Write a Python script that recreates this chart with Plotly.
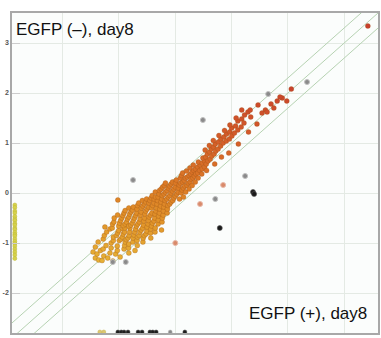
import plotly.graph_objects as go

# ---- axes / reference lines ----
y_ticks = [-2, -1, 0, 1, 2, 3]
y_ticktext = ["-2", "-1", "0", "1", "2", "3"]
x_grid = [-2, -1, 0, 1, 2, 3]
x_range = [-2.9, 3.6]
y_range = [-2.8, 3.6]
fold_offsets = [0.301, 0.0, -0.301]   # log10(2) fold-change bands

# ---- main cloud (x = EGFP(+), y = EGFP(-)), log10 values ----
low_pts = [(-1.42, -1.30), (-1.46, -1.18), (-1.36, -1.34), (-1.39, -1.22), (-1.42, -1.08),
           (-1.30, -1.35), (-1.33, -1.15), (-1.27, -1.26), (-1.37, -0.98), (-1.28, -1.12),
           (-1.20, -1.30), (-1.25, -0.68), (-1.23, -1.05), (-1.16, -1.20), (-1.28, -0.92),
           (-1.11, -1.36), (-1.14, -1.10), (-1.26, -0.85), (-1.06, -1.22), (-1.14, -1.00),
           (-1.22, -0.78), (-1.03, -1.15), (-1.10, -0.95), (-0.98, -1.28), (-1.10, -0.88),
           (-1.03, -1.06), (-1.16, -0.72), (-1.02, -0.14)]

mid_pts = [(-1.12, -0.70), (-0.995, -0.95), (-0.91, -1.12), (-1.045, -0.85),
           (-1.115, -0.62), (-1.025, -0.80), (-0.90, -1.05), (-0.965, -0.92), (-0.825, -1.20),
           (-1.005, -0.75), (-1.09, -0.58), (-0.89, -0.98), (-0.83, -1.10), (-0.94, -0.88),
           (-1.005, -0.66), (-0.925, -0.82), (-1.085, -0.50), (-0.825, -1.02), (-0.87, -0.93),
           (-0.93, -0.72), (-0.99, -0.60), (-0.84, -0.90), (-0.715, -1.15), (-0.90, -0.78),
           (-0.97, -0.55), (-0.895, -0.70), (-0.82, -0.85), (-0.755, -0.98), (-1.025, -0.44), (-0.92, -0.65),
           (-0.89, -0.62), (-0.81, -0.78), (-0.75, -0.90), (-0.95, -0.50), (-0.675, -1.05),
           (-0.865, -0.58), (-0.805, -0.70), (-0.93, -0.45), (-0.735, -0.84), (-0.68, -0.95), (-0.825, -0.66),
           (-0.85, -0.52), (-0.79, -0.64), (-0.72, -0.78), (-0.91, -0.40), (-0.67, -0.88),
           (-0.765, -0.60), (-0.825, -0.48), (-0.705, -0.72), (-0.64, -0.85), (-0.89, -0.35), (-0.575, -0.98),
           (-0.745, -0.55), (-0.69, -0.66), (-0.81, -0.42), (-0.63, -0.78), (-0.57, -0.90),
           (-0.725, -0.50), (-0.665, -0.62), (-0.785, -0.38), (-0.605, -0.74), (-0.55, -0.85), (-0.825, -0.30),
           (-0.705, -0.45), (-0.64, -0.58), (-0.58, -0.70), (-0.76, -0.34), (-0.52, -0.82),
           (-0.625, -0.52), (-0.685, -0.40), (-0.565, -0.64), (-0.745, -0.28), (-0.505, -0.76), (-0.435, -0.90),
           (-0.62, -0.44), (-0.56, -0.56), (-0.68, -0.32), (-0.50, -0.68), (-0.44, -0.80),
           (-0.605, -0.38), (-0.545, -0.50), (-0.485, -0.62), (-0.67, -0.25), (-0.435, -0.72),
           (-0.54, -0.42), (-0.60, -0.30), (-0.475, -0.55), (-0.42, -0.66), (-0.65, -0.20), (-0.36, -0.78),
           (-0.525, -0.36), (-0.465, -0.48), (-0.575, -0.26), (-0.405, -0.60), (-0.355, -0.70),
           (-0.50, -0.32), (-0.44, -0.44), (-0.55, -0.22), (-0.38, -0.56), (-0.585, -0.15),
           (-0.475, -0.28), (-0.415, -0.40), (-0.365, -0.50), (-0.525, -0.18), (-0.305, -0.62), (-0.245, -0.74),
           (-0.42, -0.30), (-0.47, -0.20), (-0.36, -0.42), (-0.51, -0.12), (-0.30, -0.54),
           (-0.40, -0.25), (-0.345, -0.36), (-0.45, -0.15), (-0.295, -0.46), (-0.235, -0.58),
           (-0.38, -0.20), (-0.33, -0.30), (-0.43, -0.10), (-0.28, -0.40), (-0.23, -0.50),
           (-0.325, -0.22), (-0.375, -0.12), (-0.275, -0.32), (-0.41, -0.05), (-0.215, -0.44),
           (-0.315, -0.15), (-0.26, -0.26), (-0.35, -0.08), (-0.21, -0.36),
           (-0.255, -0.18), (-0.305, -0.08), (-0.205, -0.28), (-0.355, 0.02), (-0.145, -0.40),
           (-0.24, -0.12), (-0.29, -0.02), (-0.19, -0.22), (-0.14, -0.32)]

upper_pts = [(-0.23, -0.05), (-0.18, -0.15), (-0.28, 0.05), (-0.13, -0.25),
             (-0.20, -0.02), (-0.15, -0.12), (-0.25, 0.08), (-0.10, -0.22),
             (-0.175, 0.02), (-0.125, -0.08), (-0.075, -0.18), (-0.225, 0.12),
             (-0.145, 0.05), (-0.095, -0.05), (-0.045, -0.15), (-0.195, 0.15),
             (-0.075, 0.00), (-0.125, 0.10), (-0.025, -0.10), (-0.175, 0.20),
             (-0.05, 0.04), (0.00, -0.06), (-0.10, 0.14),
             (-0.025, 0.08), (0.025, -0.02), (-0.075, 0.18), (0.075, -0.12),
             (0.00, 0.12), (0.05, 0.02), (-0.05, 0.22),
             (0.055, 0.10), (0.105, 0.00), (0.005, 0.20), (0.145, -0.08),
             (0.07, 0.16), (0.12, 0.06), (0.02, 0.26),
             (0.095, 0.20), (0.145, 0.10), (0.185, 0.02),
             (0.13, 0.22), (0.17, 0.14), (0.09, 0.30),
             (0.16, 0.25), (0.21, 0.15), (0.11, 0.35), (0.245, 0.08),
             (0.18, 0.30), (0.23, 0.20), (0.13, 0.40),
             (0.215, 0.32), (0.265, 0.22), (0.30, 0.15),
             (0.245, 0.35), (0.28, 0.28), (0.20, 0.44),
             (0.275, 0.38), (0.315, 0.30), (0.355, 0.22),
             (0.30, 0.42), (0.34, 0.34), (0.26, 0.50),
             (0.33, 0.45), (0.365, 0.38), (0.405, 0.30),
             (0.36, 0.48), (0.40, 0.40), (0.32, 0.56),
             (0.40, 0.52), (0.435, 0.45), (0.47, 0.38),
             (0.44, 0.56), (0.48, 0.48), (0.41, 0.62),
             (0.48, 0.60), (0.52, 0.52), (0.555, 0.45),
             (0.52, 0.64), (0.55, 0.58), (0.49, 0.70)]

red_pts = [(0.54, 0.72), (0.58, 0.64), (0.57, 0.78), (0.62, 0.68), (0.53, 0.86),
           (0.61, 0.82), (0.65, 0.74), (0.64, 0.88), (0.69, 0.78), (0.605, 0.95),
           (0.68, 0.92), (0.72, 0.84), (0.71, 0.98), (0.76, 0.88), (0.675, 1.05),
           (0.765, 1.02), (0.805, 0.94), (0.81, 1.08), (0.85, 1.00), (0.775, 1.15),
           (0.865, 1.12), (0.905, 1.04), (0.91, 1.18), (0.96, 1.08), (0.875, 1.25),
           (0.965, 1.22), (1.005, 1.14), (1.00, 1.30), (1.05, 1.20), (0.97, 1.36),
           (1.07, 1.34), (1.11, 1.26), (1.11, 1.44), (1.17, 1.32), (1.08, 1.50),
           (1.18, 1.48), (1.22, 1.40), (1.23, 1.56), (1.18, 1.66), (1.29, 1.62), (1.34, 1.52),
           (0.95, 0.80), (1.12, 0.98), (0.70, 0.58), (1.30, 1.22), (0.82, 0.72), (1.45, 1.38)]

top_pts = [(1.47, 1.76), (1.54, 1.60), (1.60, 1.66), (1.63, 1.62), (1.33, 1.66),
           (1.81, 1.84), (1.90, 1.90), (1.98, 1.84), (2.06, 2.08), (1.86, 1.92),
           (1.70, 1.78), (1.75, 1.70), (3.42, 3.34)]

grey_pts = [(-0.75, 0.26), (-1.11, -1.38), (-0.88, -1.38), (0.49, 1.46), (0.71, -0.12),
            (1.24, 0.34), (1.65, 1.98), (2.34, 2.22)]
pink_pts = [(0.00, -1.00), (0.44, -0.22), (0.85, 0.16)]
black_pts = [(0.79, -0.70), (1.38, 0.02), (1.40, -0.02)]

# genes with no EGFP(+) signal (pinned to the left edge)
left_edge_x = -2.85
left_edge_y = [-0.24, -0.29, -0.36, -0.40, -0.47, -0.52, -0.55, -0.61, -0.64, -0.70,
               -0.73, -0.79, -0.83, -0.86, -0.92, -0.97, -1.01, -1.06, -1.12, -1.18,
               -1.24, -1.31]
# genes with no EGFP(-) signal (pinned to the bottom edge)
bottom_edge_y = -2.78
bottom_yellow_x = [-1.34, -1.27]
bottom_dark_x = [-1.02, -0.96, -0.91, -0.84, -0.66, -0.59, -0.45, -0.40, -0.34, 0.17]
bottom_grey_x = [-0.09]

label_top = "EGFP (–), day8"
label_bottom = "EGFP (+), day8"

cloud = low_pts + mid_pts + upper_pts + red_pts + top_pts
cx = [p[0] for p in cloud]
cy = [p[1] for p in cloud]

fig = go.Figure()

for d in fold_offsets:
    fig.add_trace(go.Scatter(
        x=x_range, y=[x_range[0] + d, x_range[1] + d], mode="lines",
        line=dict(color="#b6d2b2", width=1), hoverinfo="skip"))

fig.add_trace(go.Scatter(
    x=cx, y=cy, mode="markers",
    marker=dict(size=5, color=cy, cmin=-1.4, cmax=2.2,
                colorscale=[[0, "#e6b236"], [0.22, "#e2962a"], [0.42, "#dc7c26"],
                            [0.7, "#d45c2a"], [1, "#c8402c"]],
                line=dict(color="rgba(150,80,20,0.45)", width=0.6))))

fig.add_trace(go.Scatter(
    x=[p[0] for p in grey_pts], y=[p[1] for p in grey_pts], mode="markers",
    marker=dict(size=5, color="#8a8a8a", line=dict(color="#c0c0c0", width=1))))
fig.add_trace(go.Scatter(
    x=[p[0] for p in pink_pts], y=[p[1] for p in pink_pts], mode="markers",
    marker=dict(size=5, color="#d98a6a", line=dict(color="#e8b8a8", width=1))))
fig.add_trace(go.Scatter(
    x=[p[0] for p in black_pts], y=[p[1] for p in black_pts], mode="markers",
    marker=dict(size=5, color="#1a1a1a", line=dict(color="#555", width=0.6))))

fig.add_trace(go.Scatter(
    x=[left_edge_x] * len(left_edge_y), y=left_edge_y, mode="markers",
    marker=dict(size=4, color="#d6d24a", line=dict(color="#bfb838", width=0.5))))
fig.add_trace(go.Scatter(
    x=bottom_yellow_x, y=[bottom_edge_y] * len(bottom_yellow_x), mode="markers",
    marker=dict(size=4, color="#dcc870", line=dict(color="#c8b050", width=0.5))))
fig.add_trace(go.Scatter(
    x=bottom_dark_x, y=[bottom_edge_y] * len(bottom_dark_x), mode="markers",
    marker=dict(size=4, color="#1e1e1e", line=dict(color="#444", width=0.5))))
fig.add_trace(go.Scatter(
    x=bottom_grey_x, y=[bottom_edge_y] * len(bottom_grey_x), mode="markers",
    marker=dict(size=4, color="#8a8a8a", line=dict(color="#bbb", width=0.5))))

fig.add_annotation(text=label_top, xref="paper", yref="paper", x=0.006, y=0.947,
                   xanchor="left", yanchor="middle", showarrow=False,
                   font=dict(family="Liberation Sans", size=17, color="#111"))
fig.add_annotation(text=label_bottom, xref="paper", yref="paper", x=0.975, y=0.06,
                   xanchor="right", yanchor="middle", showarrow=False,
                   font=dict(family="Liberation Sans", size=17, color="#111"))

fig.update_layout(
    width=381, height=338, showlegend=False,
    margin=dict(l=12, r=3, t=13, b=5),
    paper_bgcolor="white", plot_bgcolor="#fbfdfc",
    xaxis=dict(range=x_range, tickvals=x_grid, showticklabels=False, showgrid=True,
               gridcolor="#e4eae4", gridwidth=1, zeroline=False, showline=True, mirror=True,
               linecolor="#a8a8a8", linewidth=1.5, ticks="", automargin=False),
    yaxis=dict(range=y_range, tickvals=y_ticks, ticktext=y_ticktext, showgrid=True,
               gridcolor="#e4eae4", gridwidth=1, zeroline=False, showline=True, mirror=True,
               linecolor="#a8a8a8", linewidth=1.5, ticks="inside", ticklen=8,
               tickcolor="#cccccc", tickfont=dict(family="Liberation Sans", size=7,
                                                  color="#555", weight="bold"),
               automargin=False),
)

fig.write_html("out.html", config={"displayModeBar": False},
               post_script="document.body.style.margin='0';document.body.style.padding='0';")
